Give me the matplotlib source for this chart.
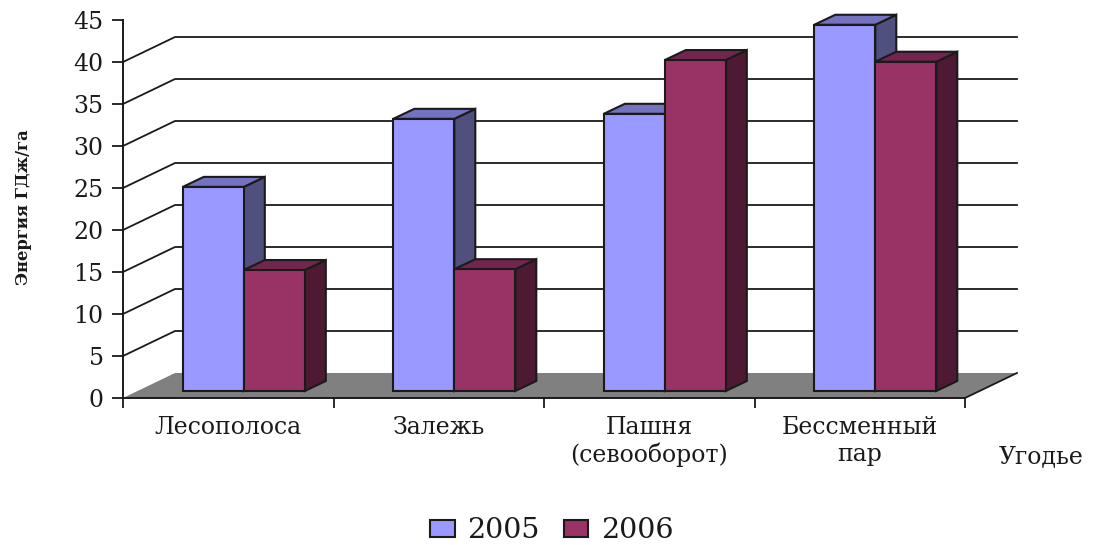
import matplotlib
matplotlib.use("Agg")
import matplotlib.pyplot as plt
from matplotlib.patches import Polygon, Patch

categories = ["Лесополоса", "Залежь", "Пашня\n(севооборот)", "Бессменный\nпар"]
series_names = ["2005", "2006"]
values_2005 = [24.3, 32.4, 33.0, 43.6]
values_2006 = [14.4, 14.5, 39.4, 39.2]
yticks = [0, 5, 10, 15, 20, 25, 30, 35, 40, 45]

W, H = 1098, 545
fig = plt.figure(figsize=(W / 100, H / 100), dpi=100)
plt.rcParams['font.family'] = 'DejaVu Serif'

# axes box in pixels: x 123..965, y 398..20
ax = fig.add_axes([123 / W, 1 - 398 / H, (965 - 123) / W, (398 - 20) / H])
ax.set_xlim(0, 4)
ax.set_ylim(0, 45)

xpx = 4 / (965 - 123.0)
ypx = 45 / (398 - 20.0)

# depth of the fake 3d box
wall_dx = 52 * xpx
wall_dy = 25 * ypx
# bars
bar_w = 61 * xpx
bar_start = 59.8 * xpx
bar_dx = 21 * xpx
bar_dy = 10 * ypx
bar_base = 7 * ypx
edge = "#1a1a1a"


def draw_bar(x, w, val, front, top, side, z):
    b = bar_base
    t = b + val
    ax.add_patch(Polygon([(x + w, b), (x + w + bar_dx, b + bar_dy), (x + w + bar_dx, t + bar_dy), (x + w, t)],
                         fc=side, ec=edge, lw=1.5, zorder=z, clip_on=False))
    ax.add_patch(Polygon([(x, t), (x + bar_dx, t + bar_dy), (x + w + bar_dx, t + bar_dy), (x + w, t)],
                         fc=top, ec=edge, lw=1.5, zorder=z, clip_on=False))
    ax.add_patch(Polygon([(x, b), (x + w, b), (x + w, t), (x, t)],
                         fc=front, ec=edge, lw=1.5, zorder=z + 0.1, clip_on=False))


# floor
ax.add_patch(Polygon([(0, 0), (wall_dx, wall_dy), (4 + wall_dx, wall_dy), (4, 0)],
                     fc="#808080", ec="none", zorder=1, clip_on=False))

# grid lines on the walls
for v in yticks[1:-1]:
    ax.plot([0, wall_dx, 4 + wall_dx], [v, v + wall_dy, v + wall_dy], color="#1a1a1a", lw=1.3,
            zorder=2, clip_on=False)
ax.plot([4, 4 + wall_dx], [0, wall_dy], color="#1a1a1a", lw=1.3, zorder=2, clip_on=False)

for i in range(len(categories)):
    x0 = i + bar_start
    draw_bar(x0, bar_w, values_2005[i], "#9999ff", "#7373bf", "#50507f", 3 + i)
    draw_bar(x0 + bar_w, bar_w, values_2006[i], "#993366", "#73264d", "#4d1933", 3.5 + i)

for s in ["top", "right"]:
    ax.spines[s].set_visible(False)
for s in ["left", "bottom"]:
    ax.spines[s].set_linewidth(1.4)
    ax.spines[s].set_color("#1a1a1a")
    ax.spines[s].set_zorder(20)

ax.set_yticks(yticks)
ax.set_xticks(range(5))
ax.set_xticklabels([])
ax.tick_params(axis="y", length=8, width=1.3, labelsize=17, pad=6, color="#1a1a1a", labelcolor="#1a1a1a")
ax.tick_params(axis="x", length=7, width=1.3, color="#1a1a1a")

# category labels sit under the ticks
for i, name in enumerate(categories):
    ax.annotate(name, (i + 0.5, 0), xytext=(0, -18), textcoords="offset pixels", ha="center",
                va="top", fontsize=17, color="#1a1a1a", linespacing=1.2, annotation_clip=False)

fig.text(1041 / W, 1 - 457 / H, "Угодье", ha="center", va="center", fontsize=17, color="#1a1a1a")

# y title is two strings printed over each other in the original
fig.text(24 / W, 1 - 207 / H, "Энергия ГДж/га", rotation=90, ha="center", va="center", fontsize=11.8,
         color="#1a1a1a", fontweight="bold")

handles = [Patch(fc="#9999ff", ec=edge, lw=1.5), Patch(fc="#993366", ec=edge, lw=1.5)]
fig.legend(handles, series_names, loc="center", bbox_to_anchor=(552 / W, 1 - 531 / H), ncol=2, frameon=False,
           fontsize=20.5, handlelength=0.85, handleheight=0.53, handletextpad=0.45, columnspacing=0.85,
           labelcolor="#1a1a1a", borderpad=0)

fig.savefig("out.png", dpi=100)
